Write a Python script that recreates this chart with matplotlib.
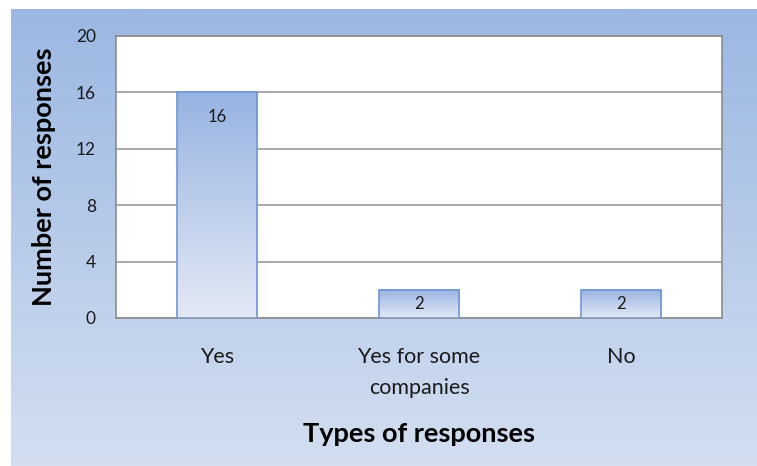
import numpy as np
import matplotlib
matplotlib.use("Agg")
import matplotlib.pyplot as plt
from matplotlib.colors import LinearSegmentedColormap

# data
categories = ["Yes", "Yes for some\ncompanies", "No"]
values = [16, 2, 2]
yticks = [0, 4, 8, 12, 16, 20]

plt.rcParams['font.family'] = ['Lato', 'DejaVu Sans']

W, H = 757, 466
fig = plt.figure(figsize=(W / 100, H / 100), dpi=100)
fig.patch.set_facecolor("white")

# gradient backdrop (blue at top, pale at bottom)
bg = fig.add_axes([11 / W, 0, 1 - 11 / W, (H - 9) / H])
bg_cmap = LinearSegmentedColormap.from_list("bg", ["#d3dff1", "#9bb7e2"])
bg.imshow(np.linspace(0, 1, 256).reshape(-1, 1), cmap=bg_cmap, aspect="auto",
          origin="lower", extent=[0, 1, 0, 1])
bg.set_axis_off()

ax = fig.add_axes([116 / W, (H - 318) / H, 606 / W, 282 / H])
ax.set_facecolor("white")

bar_cmap = LinearSegmentedColormap.from_list("bar", ["#e3e9f5", "#97b3e2"])
grad = np.linspace(0, 1, 256).reshape(-1, 1)
x = np.arange(len(categories))
bars = ax.bar(x, values, width=0.4, facecolor="none", edgecolor="#6f98d2",
              linewidth=1.2, zorder=4)
for b in bars:
    x0, top = b.get_x(), b.get_height()
    ax.imshow(grad, cmap=bar_cmap, aspect="auto", origin="lower",
              extent=[x0, x0 + b.get_width(), 0, top], zorder=3)
    # label sits near the top, or in the middle when the bar is short
    ax.text(x0 + b.get_width() / 2, max(top - 1.75, top / 2), str(int(top)),
            ha="center", va="center", fontsize=12, color="#1a1a1a", zorder=5)
ax.set_xlim(-0.5, len(categories) - 0.5)
ax.set_ylim(0, 20)

ax.set_yticks(yticks)
ax.yaxis.grid(True, color="#9a9a9a", linewidth=1.2, zorder=1)
ax.set_axisbelow(True)
ax.set_xticks(x)
ax.set_xticklabels(categories, fontsize=15.5, color="#1a1a1a", linespacing=1.68)
ax.tick_params(axis="y", labelsize=12.5, colors="#1a1a1a", length=0, pad=14.5)
ax.tick_params(axis="x", length=0, pad=21)
for s in ax.spines.values():
    s.set_color("#8c8c8c")
    s.set_linewidth(1.2)

ax.set_xlabel("Types of responses", fontsize=19.5, fontweight="bold", labelpad=17)
ax.set_ylabel("Number of responses", fontsize=19.5, fontweight="bold", labelpad=14)

fig.savefig("out.png", dpi=100)
